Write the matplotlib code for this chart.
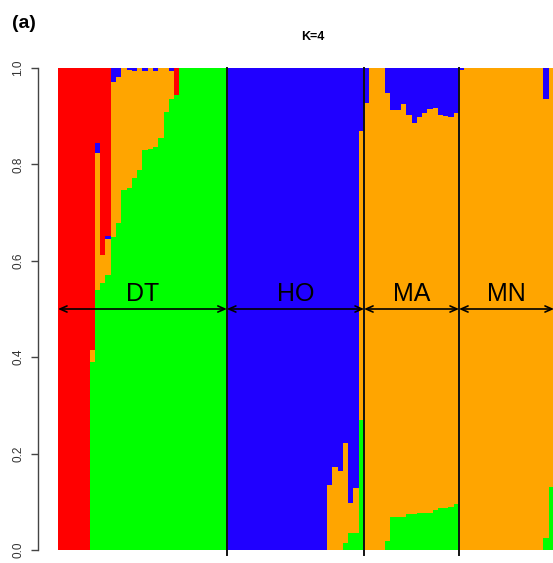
import matplotlib
matplotlib.use("Agg")
import matplotlib.pyplot as plt
import numpy as np

plt.rcParams['font.family'] = ['Liberation Sans', 'DejaVu Sans']

# ---- data (membership fractions per individual) ----
populations = ["DT", "HO", "MA", "MN"]

dt_green  = [0, 0, 0, 0, 0, 0, 0.390, 0.539, 0.554, 0.571, 0.649, 0.678, 0.747, 0.751, 0.772, 0.788,
             0.830, 0.832, 0.836, 0.855, 0.909, 0.936, 0.944, 1, 1, 1, 1, 1, 1, 1, 1, 1]
dt_orange = [0, 0, 0, 0, 0, 0, 0.025, 0.285, 0.058, 0.074, 0.322, 0.303, 0.253, 0.244, 0.222, 0.212,
             0.164, 0.168, 0.158, 0.145, 0.091, 0.058, 0, 0, 0, 0, 0, 0, 0, 0, 0, 0]
dt_blue   = [0, 0, 0, 0, 0, 0, 0, 0.020, 0, 0.006, 0.029, 0.019, 0, 0.005, 0.006, 0,
             0.006, 0, 0.006, 0, 0, 0.006, 0, 0, 0, 0, 0, 0, 0, 0, 0, 0]
dt_red    = [1, 1, 1, 1, 1, 1, 0.585, 0.156, 0.388, 0.349, 0, 0, 0, 0, 0, 0,
             0, 0, 0, 0, 0, 0, 0.056, 0, 0, 0, 0, 0, 0, 0, 0, 0]

ho_green  = [0, 0, 0, 0, 0, 0, 0, 0, 0, 0, 0, 0, 0, 0, 0, 0, 0, 0, 0,
             0, 0, 0, 0.015, 0.035, 0.035, 0.270]
ho_orange = [0, 0, 0, 0, 0, 0, 0, 0, 0, 0, 0, 0, 0, 0, 0, 0, 0, 0, 0,
             0.135, 0.172, 0.164, 0.207, 0.063, 0.094, 0.600]
ho_blue   = [1, 1, 1, 1, 1, 1, 1, 1, 1, 1, 1, 1, 1, 1, 1, 1, 1, 1, 1,
             0.865, 0.828, 0.836, 0.778, 0.902, 0.871, 0.130]
ho_red    = [0, 0, 0, 0, 0, 0, 0, 0, 0, 0, 0, 0, 0, 0, 0, 0, 0, 0, 0,
             0, 0, 0, 0, 0, 0, 0]

ma_green  = [0, 0, 0, 0, 0.019, 0.069, 0.069, 0.069, 0.074, 0.074, 0.076, 0.076, 0.076, 0.082,
             0.088, 0.088, 0.090, 0.095]
ma_orange = [0.928, 1, 1, 1, 0.930, 0.844, 0.843, 0.856, 0.828, 0.812, 0.822, 0.830, 0.838, 0.834,
             0.814, 0.812, 0.808, 0.811]
ma_blue   = [0.072, 0, 0, 0, 0.051, 0.087, 0.088, 0.075, 0.098, 0.114, 0.102, 0.094, 0.086, 0.084,
             0.098, 0.100, 0.102, 0.094]
ma_red    = [0, 0, 0, 0, 0, 0, 0, 0, 0, 0, 0, 0, 0, 0, 0, 0, 0, 0]

mn_green  = [0, 0, 0, 0, 0, 0, 0, 0, 0, 0, 0, 0, 0, 0, 0, 0, 0.024, 0.131]
mn_orange = [0.995, 1, 1, 1, 1, 1, 1, 1, 1, 1, 1, 1, 1, 1, 1, 1, 0.911, 0.869]
mn_blue   = [0.005, 0, 0, 0, 0, 0, 0, 0, 0, 0, 0, 0, 0, 0, 0, 0, 0.065, 0]
mn_red    = [0, 0, 0, 0, 0, 0, 0, 0, 0, 0, 0, 0, 0, 0, 0, 0, 0, 0]

yticks = [0.0, 0.2, 0.4, 0.6, 0.8, 1.0]
ytick_labels = ["0.0", "0.2", "0.4", "0.6", "0.8", "1.0"]

# ---- assemble ----
green = np.array(dt_green + ho_green + ma_green + mn_green)
orange = np.array(dt_orange + ho_orange + ma_orange + mn_orange)
blue = np.array(dt_blue + ho_blue + ma_blue + mn_blue)
red = np.array(dt_red + ho_red + ma_red + mn_red)
sizes = [len(dt_green), len(ho_green), len(ma_green), len(mn_green)]
n = len(green)
x = np.arange(n)

C_GREEN = "#00FF00"
C_ORANGE = "#FFA500"
C_BLUE = "#2000FF"
C_RED = "#FF0000"

fig = plt.figure(figsize=(5.53, 5.63), dpi=100)
W, H = 553, 563
ax = fig.add_axes([58 / W, (H - 550) / H, (554 - 58) / W, 482 / H])

bottom = np.zeros(n)
for vals, col in [(green, C_GREEN), (orange, C_ORANGE), (blue, C_BLUE), (red, C_RED)]:
    ax.bar(x, vals, width=1.0, bottom=bottom, align="edge", color=col,
           linewidth=0, antialiased=False)
    bottom = bottom + vals

ax.set_xlim(0, n)
ax.set_ylim(0, 1)

# population separators, arrows, labels
edges = np.concatenate([[0], np.cumsum(sizes)])
for b in edges[1:-1]:
    ax.plot([b, b], [-0.011, 1.0], color="#111111", lw=1.4, clip_on=False, zorder=5)
for i, name in enumerate(populations):
    s, e = edges[i], edges[i + 1]
    ax.annotate("", xy=(e, 0.5), xytext=(s, 0.5),
                arrowprops=dict(arrowstyle="<->,head_length=0.5,head_width=0.22",
                                color="black", lw=1.2, shrinkA=0, shrinkB=0),
                annotation_clip=False, zorder=6)
    ax.text((s + e) / 2, 0.507, name, ha="center", va="bottom", fontsize=18,
            color="black", zorder=6)

# axes styling (R-like)
for sp in ["top", "right", "bottom"]:
    ax.spines[sp].set_visible(False)
ax.spines["left"].set_position(("outward", 14.4))
ax.spines["left"].set_bounds(0, 1)
ax.spines["left"].set_color("#444444")
ax.spines["left"].set_linewidth(1.0)
ax.set_xticks([])
ax.set_yticks(yticks)
ax.set_yticklabels(ytick_labels, rotation=90, va="center", fontsize=8.5, color="#333333")
ax.tick_params(axis="y", length=5, width=1.0, color="#444444", pad=5)

fig.text(313 / W, 1 - 37 / H, "K=4", ha="center", va="center", fontsize=9, fontweight="bold")
fig.text(12 / W, 1 - 24 / H, "(a)", ha="left", va="center", fontsize=14, fontweight="bold")

fig.savefig("out.png", dpi=100)
